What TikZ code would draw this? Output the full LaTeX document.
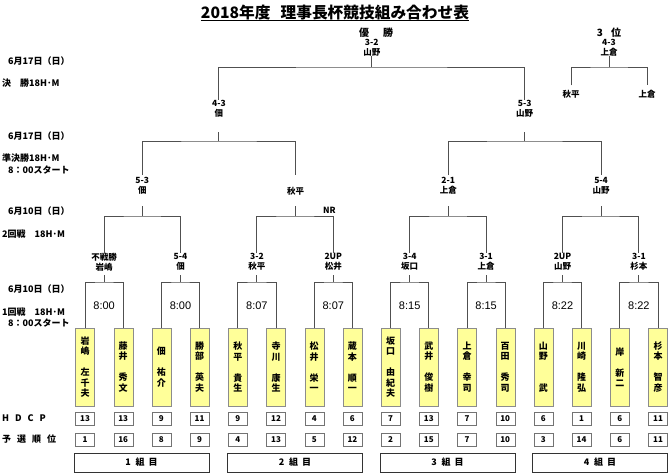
\documentclass[tikz,border=0pt]{standalone}
\usepackage{fontspec}
\setmainfont{Noto Sans CJK JP}
\newfontfamily\arial{Liberation Sans}
\usetikzlibrary{positioning}
\definecolor{namefill}{RGB}{255,255,153}
\definecolor{wirecolor}{RGB}{80,80,80}

\begin{document}
\begin{tikzpicture}[
    x=1pt, y=-1pt,
    font=\bfseries\fontsize{9}{10}\selectfont,
    % Bracket lines
    wire/.style={draw=wirecolor, line width=1pt},
    % Left-hand labels
    lbl/.style={anchor=west, inner sep=0pt},
    % Score and winner
    res/.style={align=center, inner sep=0pt, font=\bfseries\fontsize{8.5}{10}\selectfont},
    % Player boxes
    player/.style={rectangle, draw=black!45, fill=namefill, minimum width=19pt, minimum height=78pt, inner sep=0pt, align=center, font=\bfseries\fontsize{9}{10.5}\selectfont},
    numbox/.style={rectangle, draw=black!55, minimum width=19pt, minimum height=13pt, inner sep=0pt, font=\bfseries\fontsize{8}{9}\selectfont},
    grpbox/.style={rectangle, draw=black!80, minimum width=135pt, minimum height=19pt, inner sep=0pt},
    tee/.style={font=\arial\fontsize{11}{12}\selectfont}
]
    \useasboundingbox (0,0) rectangle (670,474);

    % --- TITLE ---
    \node[font=\bfseries\fontsize{15.7}{17}\selectfont, inner sep=0pt] (title) at (335,13) {2018年度\hspace{10pt}理事長杯競技組み合わせ表};
    \draw[line width=1.2pt] ([yshift=-1.5pt]title.base west) -- ([yshift=-1.5pt]title.base east);

    % --- LEFT COLUMN ---
    \node[lbl] (day1) at (8,61) {6月17日（日）};
    \node[lbl] (rnd1) at (2,83) {決　勝18H･M};
    \node[lbl] (day2) at (8,136) {6月17日（日）};
    \node[lbl] (rnd2) at (2,158.5) {準決勝18H･M};
    \node[lbl] (start2) at (8,170) {8：00スタート};
    \node[lbl] (day3) at (8,211) {6月10日（日）};
    \node[lbl] (rnd3) at (2,234) {2回戦　18H･M};
    \node[lbl] (day4) at (8,289) {6月10日（日）};
    \node[lbl] (rnd4) at (2,312) {1回戦　18H･M};
    \node[lbl] (start4) at (8,323.5) {8：00スタート};
    \node[lbl] (hdcp) at (2,418.5) {H\hspace{6pt}D\hspace{6pt}C\hspace{6pt}P};
    \node[lbl] (rank) at (2,439.5) {予\hspace{6pt}選\hspace{6pt}順\hspace{6pt}位};

    % --- PLAYERS ---
    \foreach \i/\nm/\hc/\rk in {
        1/{岩\\嶋\\~\\左\\千\\夫}/13/1,
        2/{藤\\井\\~\\秀\\文}/13/16,
        3/{佃\\~\\祐\\介}/9/8,
        4/{勝\\部\\~\\英\\夫}/11/9,
        5/{秋\\平\\~\\貴\\生}/9/4,
        6/{寺\\川\\~\\康\\生}/12/13,
        7/{松\\井\\~\\栄\\一}/4/5,
        8/{蔵\\本\\~\\順\\一}/6/12,
        9/{坂\\口\\~\\由\\紀\\夫}/7/2,
        10/{武\\井\\~\\俊\\樹}/13/15,
        11/{上\\倉\\~\\幸\\司}/7/7,
        12/{百\\田\\~\\秀\\司}/10/10,
        13/{山\\野\\~\\~\\武}/6/3,
        14/{川\\崎\\~\\隆\\弘}/1/14,
        15/{岸\\~\\新\\二}/6/6,
        16/{杉\\本\\~\\智\\彦}/11/11} {
        \node[player] (p\i) at ({85+38.2*(\i-1)},367) {\nm};
        \node[numbox] (h\i) at (p\i |- 0,418.5) {\hc};
        \node[numbox] (k\i) at (p\i |- 0,439.5) {\rk};
    }

    % --- GROUPS ---
    \foreach \g/\x in {1/141.5, 2/295, 3/447.5, 4/600} {
        \node[grpbox] (grp\g) at (\x,462.5) {\g\hspace{5pt}組\hspace{4pt}目};
    }

    % --- FIRST ROUND ---
    \foreach \m/\sc/\wn/\tm in {1/不戦勝/岩嶋/8:00, 2/5-4/佃/8:00, 3/3-2/秋平/8:07, 4/2UP/松井/8:07,
                                5/3-4/坂口/8:15, 6/3-1/上倉/8:15, 7/2UP/山野/8:22, 8/3-1/杉本/8:22} {
        \pgfmathtruncatemacro\a{2*\m-1}
        \pgfmathtruncatemacro\b{2*\m}
        \node[res] (w\m) at ({104.1+76.4*(\m-1)},262) {\sc\\\wn};
        \node[tee] (t\m) at (w\m |- 0,306) {\tm};
        \coordinate (ws\m) at (w\m |- 0,275);
        \coordinate (wb\m) at (w\m |- 0,282);
        \draw[wire] (ws\m) -- (wb\m);
        \draw[wire] (p\a.north) |- (wb\m) -| (p\b.north);
    }

    % --- SECOND ROUND ---
    \node[res] (q1) at (142.3,185.5) {5-3\\佃};
    \node[res] (q2) at (295.5,191) {秋平};
    \node[res] (q3) at (448.3,185.5) {2-1\\上倉};
    \node[res] (q4) at (601.1,185.5) {5-4\\山野};
    \node[res] (nr) at (329.5,210) {NR};
    \foreach \k/\a/\b in {1/1/2, 2/3/4, 3/5/6, 4/7/8} {
        \coordinate (qs\k) at (q\k |- 0,206);
        \coordinate (qb\k) at (q\k |- 0,216);
        \coordinate (qe\k) at (q\k |- 0,175);
        \draw[wire] (qs\k) -- (qb\k);
        \draw[wire] (w\a.north) |- (qb\k) -| (w\b.north);
    }

    % --- SEMIFINALS ---
    \node[res] (sf1) at (218.9,108.5) {4-3\\佃};
    \node[res] (sf2) at (524.7,108.5) {5-3\\山野};
    \foreach \k/\a/\b in {1/1/2, 2/3/4} {
        \coordinate (ss\k) at (sf\k |- 0,132);
        \coordinate (sb\k) at (sf\k |- 0,141);
        \draw[wire] (ss\k) -- (sb\k);
        \draw[wire] (qe\a) |- (sb\k) -| (qe\b);
    }

    % --- FINAL ---
    \node[font=\bfseries\fontsize{10}{12}\selectfont] (champ) at (376,33) {優\hspace{14pt}勝};
    \node[res] (fin) at (371.8,47.5) {3-2\\山野};
    \coordinate (fb) at (fin |- 0,67);
    \draw[wire] (fin.south) -- (fb);
    \draw[wire] (sf1.north) |- (fb) -| (sf2.north);

    % --- THIRD PLACE ---
    \node[font=\bfseries\fontsize{10}{12}\selectfont] (bronze) at (609,33) {3\hspace{8pt}位};
    \node[res] (thw) at (609,47.5) {4-3\\上倉};
    \node[res] (th1) at (571,94.5) {秋平};
    \node[res] (th2) at (647,94.5) {上倉};
    \coordinate (tb) at (thw |- 0,67);
    \draw[wire] (thw.south) -- (tb);
    \draw[wire] ([yshift=5pt]th1.north) |- (tb) -| ([yshift=5pt]th2.north);

\end{tikzpicture}
\end{document}
